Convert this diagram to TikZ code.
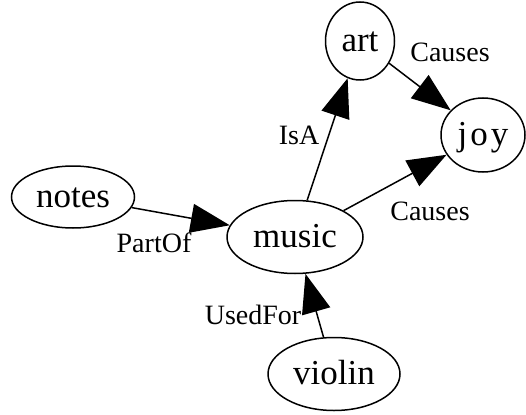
\documentclass[tikz,border=0pt]{standalone}
\usepackage{fontspec}
\setmainfont{Liberation Serif}
\usetikzlibrary{shapes.geometric,arrows.meta}
\begin{document}
\begin{tikzpicture}[x=1pt,y=-1pt,
  nd/.style={draw, ellipse, line width=1.5pt, inner sep=0pt,
    font=\fontsize{35}{42}\selectfont, text height=21pt, text depth=0pt},
  lbl/.style={inner sep=0pt, font=\fontsize{28}{33}\selectfont},
  edge/.style={line width=1.5pt, -{Triangle[length=39pt,width=29pt]}}]
\useasboundingbox (0,0) rectangle (526,414);
\node[nd, minimum width=69pt, minimum height=78pt] (art) at (360,41) {art};
\node[nd, minimum width=84pt, minimum height=74pt] (joy) at (483,135) {j\kern3pt o\kern3pt y};
\node[nd, minimum width=123pt, minimum height=62pt] (notes) at (73,197) {notes};
\node[nd, minimum width=136pt, minimum height=73pt] (music) at (295,237) {music};
\node[nd, minimum width=132pt, minimum height=73pt] (violin) at (334,374) {violin};
\draw[edge] (music) -- (art);
\draw[edge] (art) -- (joy);
\draw[edge] (music) -- (joy);
\draw[edge] (notes) -- (music);
\draw[edge] (violin) -- (music);
\node[lbl] (l1) at (299,135) {IsA};
\node[lbl] (l2) at (450,52) {Causes};
\node[lbl] (l3) at (430,211) {Causes};
\node[lbl] (l4) at (154,243) {PartOf};
\node[lbl] (l5) at (253,315) {UsedFor};
\end{tikzpicture}
\end{document}
